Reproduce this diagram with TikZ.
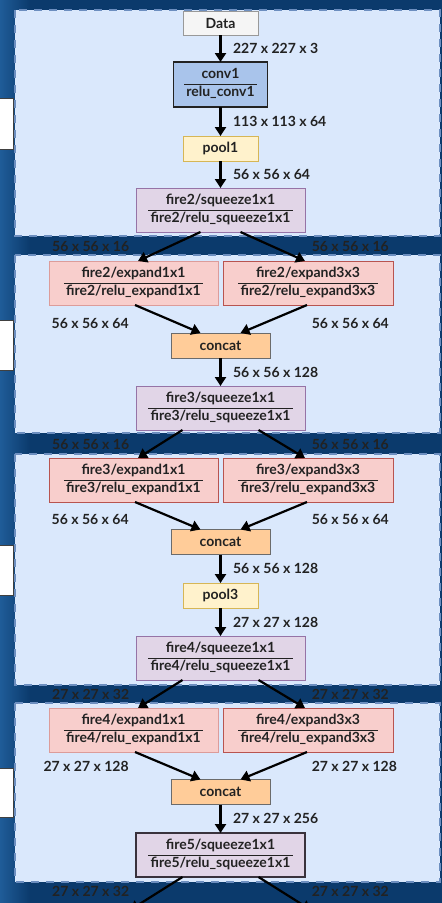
\documentclass[tikz,border=0pt]{standalone}
\usepackage{fontspec}
\setmainfont{Lato}
\usepackage{tikz}
\usetikzlibrary{arrows.meta,positioning}

\definecolor{navy}{HTML}{0B3A6C}
\definecolor{navylight}{HTML}{1F5C98}
\definecolor{panelfill}{HTML}{DAE8FC}
\definecolor{paneldash}{HTML}{6C8EBF}
\definecolor{datafill}{HTML}{F5F5F5}
\definecolor{dataline}{HTML}{999999}
\definecolor{convfill}{HTML}{A9C4EB}
\definecolor{poolfill}{HTML}{FFF2CC}
\definecolor{poolline}{HTML}{D6B656}
\definecolor{sqfill}{HTML}{E1D5E7}
\definecolor{sqline}{HTML}{9673A6}
\definecolor{expfill}{HTML}{F8CECC}
\definecolor{expline}{HTML}{B85450}
\definecolor{expfaint}{HTML}{DC9C9A}
\definecolor{catfill}{HTML}{FFCC99}
\definecolor{catline}{HTML}{6B6B6B}
\definecolor{inkdark}{HTML}{222222}

\setlength{\arrayrulewidth}{1pt}
\newcommand{\stackname}[2]{\begin{tabular}{@{\,}c@{\,}}#1\\\hline #2\end{tabular}}

\tikzset{
  box/.style={rectangle, draw, line width=1pt, inner sep=0pt, outer sep=0pt, text=inkdark,
    font=\fontsize{14}{16.8}\selectfont\bfseries},
  datanode/.style={box, fill=datafill, draw=dataline, minimum width=75pt, minimum height=24pt},
  convnode/.style={box, fill=convfill, draw=inkdark, line width=1.5pt, minimum width=94pt, minimum height=45pt},
  poolnode/.style={box, fill=poolfill, draw=poolline, minimum width=75pt, minimum height=25pt},
  sqnode/.style={box, fill=sqfill, draw=sqline, minimum width=169pt, minimum height=44pt},
  expnode/.style={box, fill=expfill, draw=expfaint, minimum width=169pt, minimum height=44pt},
  expwide/.style={expnode, draw=expline},
  catnode/.style={box, fill=catfill, draw=catline, minimum width=99pt, minimum height=25pt},
  dim/.style={inner sep=0pt, text=inkdark, font=\fontsize{14}{16.8}\selectfont\bfseries},
  flow/.style={line width=2.2pt, -{Triangle[width=11pt,length=9pt]}},
  panel/.style={fill=panelfill, draw=paneldash, line width=2pt, dash pattern=on 8pt off 7pt},
  sidebox/.style={fill=white, draw=black!75, line width=1pt}
}

\begin{document}
\begin{tikzpicture}[x=1pt, y=-1pt, node distance=28pt]
\useasboundingbox (0,0) rectangle (442,903);
\clip (0,0) rectangle (442,903);

\fill[navy] (0,0) rectangle (442,903);
\shade[left color=navylight, right color=navy] (0,0) rectangle (30,903);

\draw[sidebox] (-5,98) rectangle (13,149);
\draw[sidebox] (-5,320) rectangle (13,370);
\draw[sidebox] (-5,545) rectangle (13,595);
\draw[sidebox] (-5,768) rectangle (13,817);

\draw[panel] (15,10) rectangle (440,236);
\draw[panel] (15,255) rectangle (440,433);
\draw[panel] (15,454) rectangle (440,685);
\draw[panel] (15,703) rectangle (440,882);

\node[datanode] (data) at (220.5,23) {Data};
\node[convnode] (conv1) [below=27pt of data] {\stackname{conv1}{relu\_conv1}};
\node[poolnode] (pool1) [below=29pt of conv1] {pool1};
\node[sqnode] (sq2) [below=27pt of pool1] {\stackname{fire2/squeeze1x1}{fire2/relu\_squeeze1x1}};

\node[expnode] (e2a) [below=29pt of sq2, xshift=-87pt] {\stackname{fire2/expand1x1}{fire2/relu\_expand1x1}};
\node[expwide] (e2b) [below=29pt of sq2, xshift=87.5pt, minimum width=170pt] {\stackname{fire2/expand3x3}{fire2/relu\_expand3x3}};
\node[catnode] (c2) [below=of e2a, xshift=87pt] {concat};
\node[sqnode] (sq3) [below=of c2] {\stackname{fire3/squeeze1x1}{fire3/relu\_squeeze1x1}};

\node[expwide] (e3a) [below=of sq3, xshift=-87pt] {\stackname{fire3/expand1x1}{fire3/relu\_expand1x1}};
\node[expwide] (e3b) [below=of sq3, xshift=87.5pt, minimum width=170pt] {\stackname{fire3/expand3x3}{fire3/relu\_expand3x3}};
\node[catnode] (c3) [below=27.5pt of e3a, xshift=87pt] {concat};
\node[poolnode] (pool3) [below=28.5pt of c3] {pool3};
\node[sqnode] (sq4) [below=of pool3] {\stackname{fire4/squeeze1x1}{fire4/relu\_squeeze1x1}};

\node[expnode] (e4a) [below=of sq4, xshift=-87pt] {\stackname{fire4/expand1x1}{fire4/relu\_expand1x1}};
\node[expwide] (e4b) [below=of sq4, xshift=87.5pt, minimum width=170pt] {\stackname{fire4/expand3x3}{fire4/relu\_expand3x3}};
\node[catnode] (c4) [below=27.5pt of e4a, xshift=87pt] {concat};
\node[sqnode] (sq5) [below=28.5pt of c4, draw=inkdark!80!sqline, line width=1.3pt] {\stackname{fire5/squeeze1x1}{fire5/relu\_squeeze1x1}};

\coordinate (out5a) at (130,910);
\coordinate (out5b) at (311,910);

\draw[flow] (data) -- node[dim, right=11.5pt] {227 x 227 x 3} (conv1);
\draw[flow] (conv1) -- node[dim, right=11.5pt] {113 x 113 x 64} (pool1);
\draw[flow] (pool1) -- node[dim, right=11.5pt] {56 x 56 x 64} (sq2);

\draw[flow] ([xshift=-20pt]sq2.south) -- node[dim, left=39pt] {56 x 56 x 16} ([xshift=4.5pt]e2a.north);
\draw[flow] ([xshift=20pt]sq2.south) -- node[dim, right=38pt] {56 x 56 x 16} ([xshift=-3pt]e2b.north);
\draw[flow] ([xshift=1.5pt]e2a.south) -- node[dim, left=38pt, yshift=-4pt] {56 x 56 x 64} ([xshift=-20pt]c2.north);
\draw[flow] ([xshift=-1pt]e2b.south) -- node[dim, right=37pt, yshift=-4pt] {56 x 56 x 64} ([xshift=20pt]c2.north);
\draw[flow] (c2) -- node[dim, right=11.5pt] {56 x 56 x 128} (sq3);

\draw[flow] ([xshift=-38pt]sq3.south) -- node[dim, left=30pt] {56 x 56 x 16} ([xshift=4.5pt]e3a.north);
\draw[flow] ([xshift=38pt]sq3.south) -- node[dim, right=29pt] {56 x 56 x 16} ([xshift=-3pt]e3b.north);
\draw[flow] ([xshift=1.5pt]e3a.south) -- node[dim, left=38pt, yshift=-4pt] {56 x 56 x 64} ([xshift=-20pt]c3.north);
\draw[flow] ([xshift=-1pt]e3b.south) -- node[dim, right=37pt, yshift=-4pt] {56 x 56 x 64} ([xshift=20pt]c3.north);
\draw[flow] (c3) -- node[dim, right=11.5pt] {56 x 56 x 128} (pool3);
\draw[flow] (pool3) -- node[dim, right=11.5pt] {27 x 27 x 128} (sq4);

\draw[flow] ([xshift=-38pt]sq4.south) -- node[dim, left=30pt] {27 x 27 x 32} ([xshift=4.5pt]e4a.north);
\draw[flow] ([xshift=38pt]sq4.south) -- node[dim, right=29pt] {27 x 27 x 32} ([xshift=-3pt]e4b.north);
\draw[flow] ([xshift=1.5pt]e4a.south) -- node[dim, left=38pt, yshift=-1pt] {27 x 27 x 128} ([xshift=-20pt]c4.north);
\draw[flow] ([xshift=-1pt]e4b.south) -- node[dim, right=37pt, yshift=-1pt] {27 x 27 x 128} ([xshift=20pt]c4.north);
\draw[flow] (c4) -- node[dim, right=11.5pt] {27 x 27 x 256} (sq5);

\draw[flow] ([xshift=-38pt]sq5.south) -- node[dim, left=26pt, yshift=2pt] {27 x 27 x 32} (out5a);
\draw[flow] ([xshift=38pt]sq5.south) -- node[dim, right=26pt, yshift=2pt] {27 x 27 x 32} (out5b);
\end{tikzpicture}
\end{document}
